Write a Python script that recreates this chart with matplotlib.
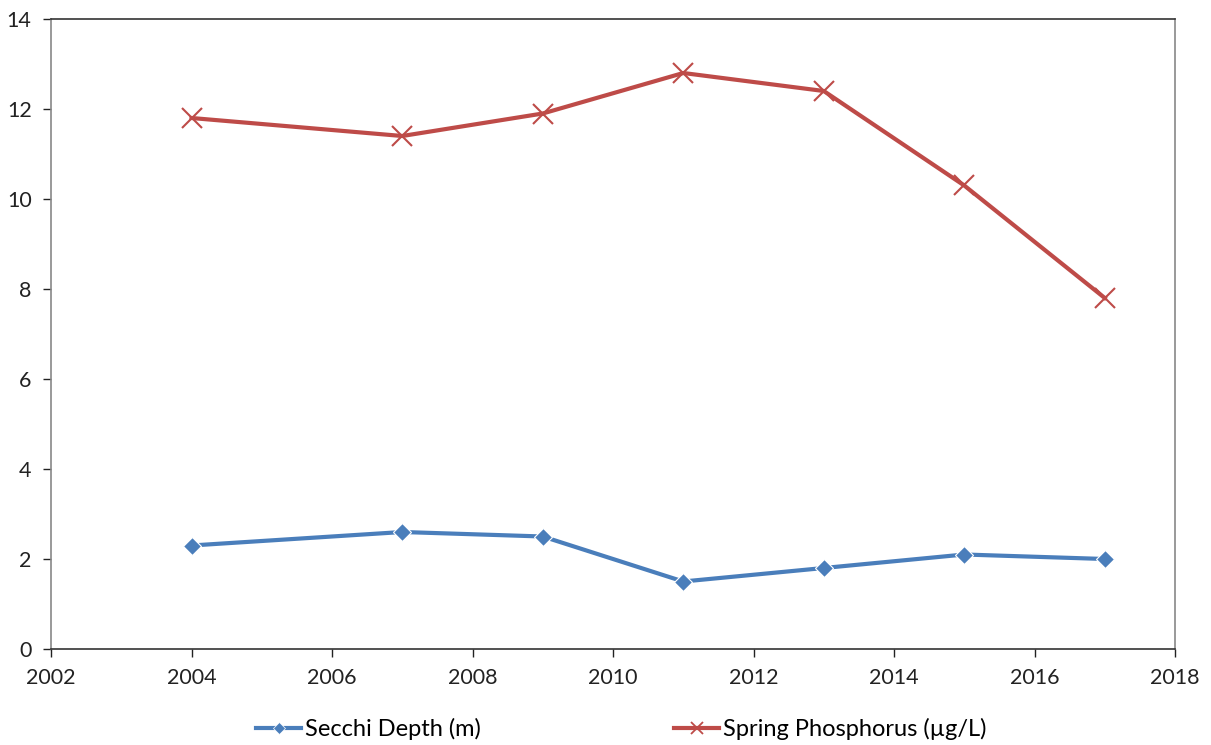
import matplotlib
matplotlib.use('Agg')
import matplotlib.pyplot as plt
from matplotlib.lines import Line2D

years_secchi = [2004, 2007, 2009, 2011, 2013, 2015, 2017]
secchi_depth = [2.3, 2.6, 2.5, 1.5, 1.8, 2.1, 2.0]
years_phos = [2004, 2007, 2009, 2011, 2013, 2015, 2017]
spring_phos = [11.8, 11.4, 11.9, 12.8, 12.4, 10.3, 7.8]
x_ticks = list(range(2002, 2019, 2))
y_ticks = list(range(0, 15, 2))

blue = '#4A7EBB'
red = '#BE4B48'

plt.rcParams['font.family'] = ['Lato', 'DejaVu Sans']

fig = plt.figure(figsize=(12.11, 7.45), dpi=100)
ax = fig.add_axes([51 / 1211, 1 - 649 / 745, (1175 - 51) / 1211, (649 - 19) / 745])

ax.plot(years_secchi, secchi_depth, color=blue, linewidth=3, marker='D',
        markersize=9, markeredgecolor='white', markeredgewidth=0.8)
ax.plot(years_phos, spring_phos, color=red, linewidth=3, marker='x',
        markersize=14, markeredgewidth=1.5)

ax.set_xlim(2002, 2018)
ax.set_ylim(0, 14)
ax.set_xticks(x_ticks)
ax.set_yticks(y_ticks)
ax.tick_params(axis='both', labelsize=15.5, colors='#222222', length=6, width=1)
ax.tick_params(axis='x', pad=8)
ax.tick_params(axis='y', pad=8)

for side in ['left', 'right']:
    ax.spines[side].set_color('#888888')
for side in ['top', 'bottom']:
    ax.spines[side].set_color('#333333')
for s in ax.spines.values():
    s.set_linewidth(1.2)

# legend handles with smaller markers, like the source
handles = [
    Line2D([], [], color=blue, linewidth=3, marker='D', markersize=6,
           markeredgecolor='white', markeredgewidth=0.5),
    Line2D([], [], color=red, linewidth=3, marker='x', markersize=9, markeredgewidth=1.3),
]
labels = ['Secchi Depth (m)', 'Spring Phosphorus (µg/L)']
fig.legend(handles, labels, loc='lower center', bbox_to_anchor=(0.513, -0.022), ncol=2,
           frameon=False, fontsize=17, columnspacing=8.2, handlelength=1.9,
           handletextpad=0.15)

fig.savefig('out.png', dpi=100)
